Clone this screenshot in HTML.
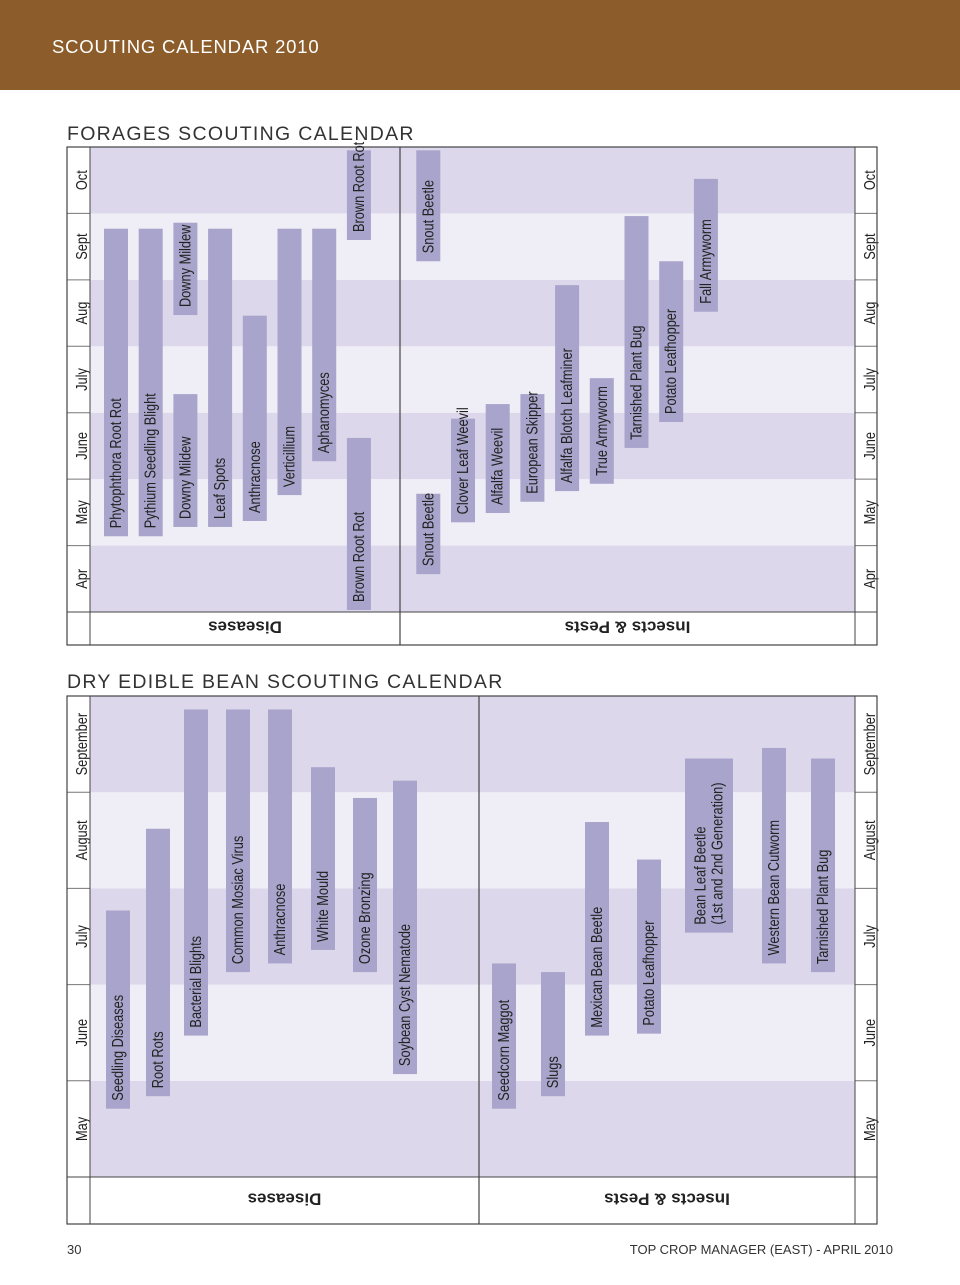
<!DOCTYPE html>
<html><head><meta charset="utf-8">
<style>
html,body{margin:0;padding:0;background:#fff;}
body{width:960px;height:1285px;position:relative;overflow:hidden;font-family:"Liberation Sans",sans-serif;}
svg{position:absolute;left:0;top:0;}
</style></head>
<body>
<svg id="page" width="960" height="1285" viewBox="0 0 960 1285">
  <rect x="0" y="0" width="960" height="90" fill="#8c5d2a"/>
  <text x="52" y="53" fill="#fff" font-size="18.5" letter-spacing="0.8">SCOUTING CALENDAR 2010</text>
  <text x="67" y="140" fill="#333" font-size="19.5" letter-spacing="1.3">FORAGES SCOUTING CALENDAR</text>
  <text x="67" y="688" fill="#333" font-size="19.5" letter-spacing="1.3">DRY EDIBLE BEAN SCOUTING CALENDAR</text>
  <text x="67" y="1254" fill="#333" font-size="13">30</text>
  <text x="893" y="1254" fill="#333" font-size="13" text-anchor="end">TOP CROP MANAGER (EAST) - APRIL 2010</text>
  <g id="c1"></g>
  <g id="c2"></g>
</svg>
<script>
// ---- Forages chart data (values in months from Apr 1) ----
const f_months = ["Apr","May","June","July","Aug","Sept","Oct"];
const f_names = ["Phytophthora Root Rot","Pythium Seedling Blight","Downy Mildew","Downy Mildew","Leaf Spots","Anthracnose","Verticillium","Aphanomyces","Brown Root Rot","Brown Root Rot",
 "Snout Beetle","Snout Beetle","Clover Leaf Weevil","Alfalfa Weevil","European Skipper","Alfalfa Blotch Leafminer","True Armyworm","Tarnished Plant Bug","Potato Leafhopper","Fall Armyworm"];
const f_cols = [0,1,2,2,3,4,5,6,7,7, 9,9,10,11,12,13,14,15,16,17];
const f_start = [1.14,1.14,1.28,4.47,1.28,1.37,1.76,2.27,0.03,5.6, 0.57,5.28,1.35,1.49,1.66,1.82,1.93,2.47,2.86,4.52];
const f_end   = [5.77,5.77,3.28,5.86,5.77,4.46,5.77,5.77,2.62,6.95, 1.78,6.95,2.91,3.13,3.28,4.92,3.52,5.96,5.28,6.52];
// ---- Dry bean chart data (values in months from May 1) ----
const b_months = ["May","June","July","August","September"];
const b_names = ["Seedling Diseases","Root Rots","Bacterial Blights","Common Mosiac Virus","Anthracnose","White Mould","Ozone Bronzing","Soybean Cyst Nematode",
 "Seedcorn Maggot","Slugs","Mexican Bean Beetle","Potato Leafhopper","Bean Leaf Beetle|(1st and 2nd Generation)","Western Bean Cutworm","Tarnished Plant Bug"];
const b_start = [0.71,0.84,1.47,2.13,2.22,2.36,2.13,1.07, 0.71,0.84,1.47,1.49,2.54,2.22,2.13];
const b_end   = [2.77,3.62,4.86,4.86,4.86,4.26,3.94,4.12, 2.22,2.13,3.69,3.30,4.35,4.46,4.35];

const NS="http://www.w3.org/2000/svg";
const FONT='"Liberation Sans",sans-serif';
function mk(parent,tag,attrs,text){const e=document.createElementNS(NS,tag);for(const k in attrs)e.setAttribute(k,attrs[k]);if(text!==undefined)e.textContent=text;parent.appendChild(e);return e;}

function drawChart(g,cfg){
  const {top,bottom,labelTop,divX,months,yOf}=cfg;
  const L=67,R=877,LC=90,RC=855;
  months.forEach((m,i)=>{
    const y1=yOf(i+1),y0=yOf(i);
    const dark=(months.length-1-i)%2===0;
    const b=mk(g,'rect',{x:LC,y:y1,width:RC-LC,height:y0-y1,fill:dark?'#dcd7eb':'#efedf6'});
    
    
    [L+15,RC+15].forEach((cx,side)=>{
      const t=mk(g,'text',{x:0,y:0,transform:`translate(${cx+5},${(y0+y1)/2}) rotate(-90) scale(0.8,1)`,'text-anchor':'middle','font-size':16,'font-family':FONT,fill:'#222'},m);
      
      
    });
  });
  for(let i=1;i<months.length;i++){
    const y=yOf(i);
    [[L,LC],[RC,R]].forEach(([a,b])=>mk(g,'line',{x1:a,x2:b,y1:y,y2:y,stroke:'#777','stroke-width':1}));
  }
  mk(g,'rect',{x:L,y:top,width:R-L,height:bottom-top,fill:'none',stroke:'#444','stroke-width':1.2});
  mk(g,'line',{x1:LC,x2:LC,y1:top,y2:bottom,stroke:'#444'});
  mk(g,'line',{x1:RC,x2:RC,y1:top,y2:bottom,stroke:'#444'});
  mk(g,'line',{x1:L,x2:R,y1:labelTop,y2:labelTop,stroke:'#444'});
  mk(g,'line',{x1:divX,x2:divX,y1:top,y2:bottom,stroke:'#444','stroke-width':1.2});
  const dl=mk(g,'text',{transform:`translate(${(LC+divX)/2},${(labelTop+bottom)/2-7}) rotate(180)`,'text-anchor':'middle','font-size':17,'font-weight':'bold',fill:'#222'},'Diseases');
  
  
  const il=mk(g,'text',{transform:`translate(${(divX+RC)/2},${(labelTop+bottom)/2-7}) rotate(180)`,'text-anchor':'middle','font-size':17,'font-weight':'bold',fill:'#222'},'Insects & Pests');
  
  
}

function drawBars(g,names,starts,ends,xs,widths,yOf){
  names.forEach((n,i)=>{
    const y1=yOf(ends[i]),y0=yOf(starts[i]),x=xs[i],w=widths[i];
    const r=mk(g,'rect',{x:x,y:y1,width:w,height:y0-y1,fill:'#a8a4cb'});
    
    
    const lines=n.split('|');
    lines.forEach((ln,j)=>{
      const cx=x+w/2+5+(j-(lines.length-1)/2)*17;
      const t=mk(g,'text',{transform:`translate(${cx},${y0-8}) rotate(-90) scale(0.8,1)`,'font-size':16,'font-family':FONT,fill:'#222'},ln);
      
      
    });
  });
}

const g1=document.getElementById('c1');
const y1=v=>612-v*66.43;
drawChart(g1,{top:147,bottom:645,labelTop:612,divX:400,months:f_months,yOf:y1});
const fx=f_cols.map(c=>104+c*34.7);
drawBars(g1,f_names,f_start,f_end,fx,f_names.map(()=>24),y1);

const g2=document.getElementById('c2');
const y2=v=>1177-v*96.2;
drawChart(g2,{top:696,bottom:1224,labelTop:1177,divX:479,months:b_months,yOf:y2});
const bx=[106,146,184,226,268,311,353,393,492,541,585,637,685,762,811];
const bw=b_names.map(n=>n.includes('|')?48:24);
drawBars(g2,b_names,b_start,b_end,bx,bw,y2);
</script>
</body></html>
